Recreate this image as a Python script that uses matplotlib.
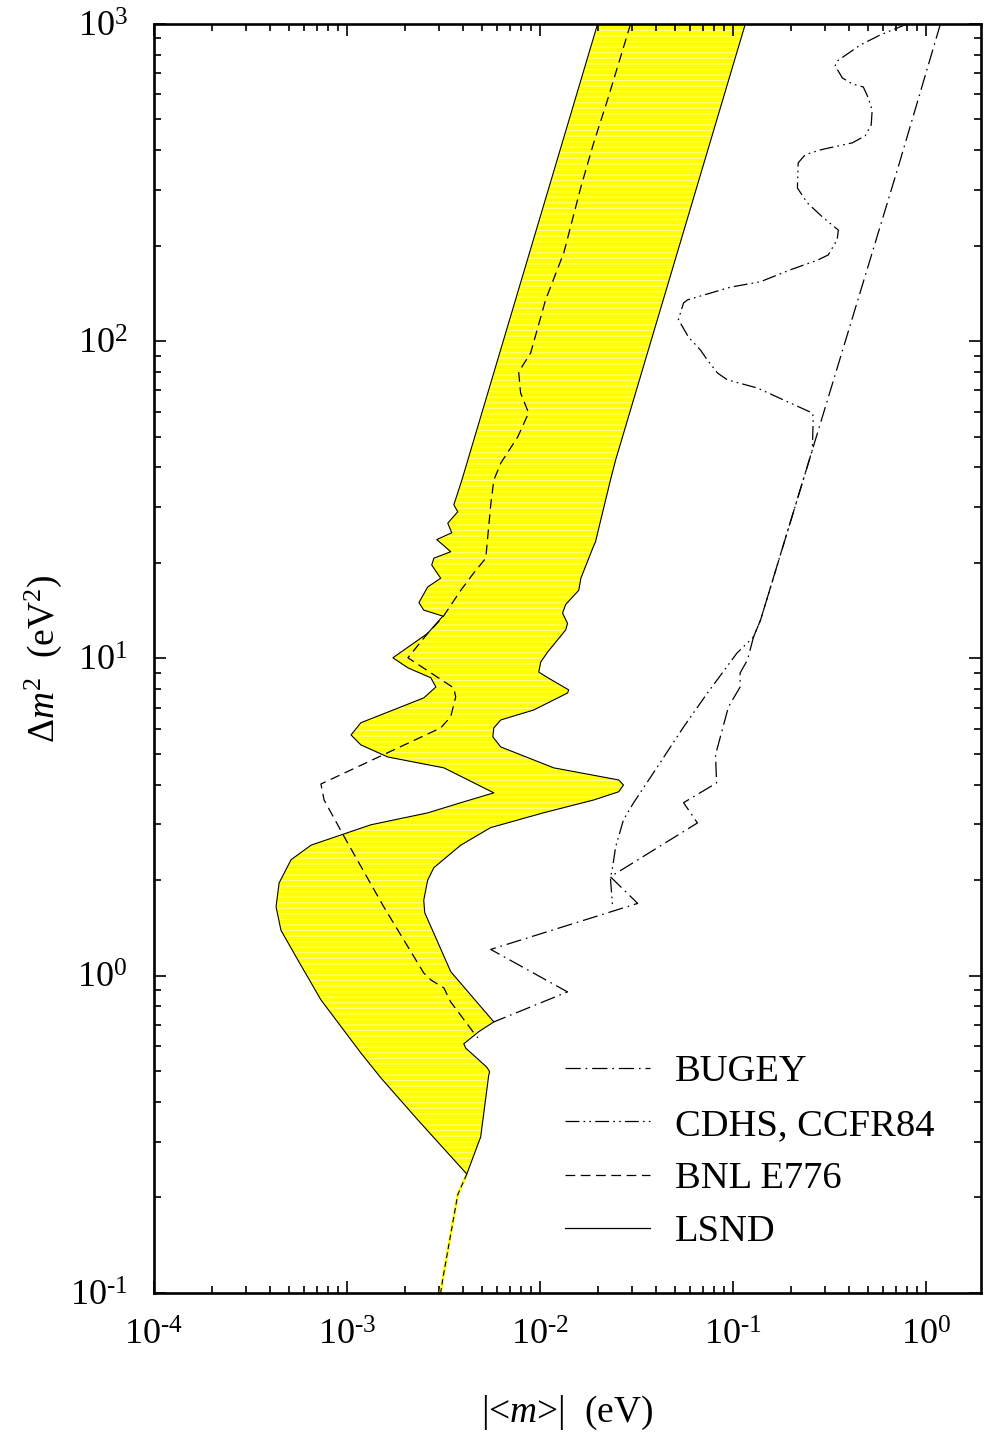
import matplotlib
matplotlib.use('Agg')
import matplotlib.pyplot as plt
from matplotlib.lines import Line2D
from matplotlib.ticker import LogLocator, NullFormatter, FuncFormatter
import math

# LSND allowed region: left edge from the top down to the lower tip, then the right edge back up
lsnd_m = [1.99e-2, 3.94e-3, 3.58e-3, 3.75e-3, 3.33e-3, 3.49e-3, 2.92e-3, 3.45e-3, 2.82e-3, 2.75e-3,
          3.06e-3, 2.62e-3, 2.36e-3, 2.50e-3, 3.14e-3, 2.62e-3, 1.73e-3, 2.07e-3, 2.72e-3, 2.89e-3,
          2.50e-3, 1.18e-3, 1.05e-3, 1.18e-3, 1.63e-3, 3.18e-3, 5.77e-3, 3.89e-3, 2.62e-3, 1.33e-3,
          6.52e-4, 5.13e-4, 4.45e-4, 4.29e-4, 4.55e-4, 5.57e-4, 7.33e-4, 1.18e-3, 1.50e-3, 2.33e-3,
          4.18e-3,
          4.76e-3, 4.93e-3, 5.43e-3, 5.49e-3, 5.30e-3, 4.13e-3, 4.03e-3, 4.28e-3, 4.82e-3, 5.77e-3,
          3.45e-3, 2.82e-3, 2.53e-3, 2.50e-3, 2.62e-3, 2.82e-3, 3.89e-3, 5.56e-3, 1.04e-2, 1.90e-2,
          2.56e-2, 2.71e-2, 2.56e-2, 1.18e-2, 6.27e-3, 5.70e-3, 5.77e-3, 6.27e-3, 9.29e-3, 1.39e-2,
          1.41e-2, 1.10e-2, 9.86e-3, 1.01e-2, 1.10e-2, 1.36e-2, 1.39e-2, 1.31e-2, 1.36e-2, 1.59e-2,
          1.63e-2, 1.88e-2, 1.94e-2, 2.32e-2, 2.47e-2, 0.116]
lsnd_dm2 = [1000, 36.5, 30.5, 29.0, 26.7, 24.9, 23.7, 21.7, 20.7, 19.7,
            17.9, 16.8, 15.0, 14.2, 13.6, 12.0, 10.05, 9.34, 8.69, 8.13,
            7.51, 6.27, 5.74, 5.34, 4.89, 4.52, 3.77, 3.51, 3.26, 2.99,
            2.58, 2.32, 1.96, 1.65, 1.39, 1.12, 0.839, 0.571, 0.476, 0.351,
            0.237,
            0.293, 0.310, 0.486, 0.498, 0.515, 0.591, 0.610, 0.628, 0.666, 0.715,
            1.03, 1.36, 1.58, 1.73, 2.00, 2.19, 2.58, 2.93, 3.26, 3.58,
            3.80, 3.99, 4.14, 4.52, 5.26, 5.66, 6.04, 6.40, 6.88, 7.78,
            7.96, 8.69, 9.06, 9.75, 10.5, 12.3, 12.9, 13.9, 14.8, 16.4,
            17.9, 22.3, 23.3, 36.5, 42.3, 1000]

# narrow LSND tail below the tip
tail_m = [4.18e-3, 3.75e-3, 3.14e-3, 3.02e-3]
tail_dm2 = [0.237, 0.204, 0.111, 0.095]

bnl_m = [2.95e-2, 2.24e-2, 1.90e-2, 1.63e-2, 1.33e-2, 1.07e-2, 8.95e-3, 7.76e-3, 7.94e-3, 8.74e-3,
         7.67e-3, 6.27e-3, 5.77e-3, 5.56e-3, 5.24e-3, 4.54e-3, 3.89e-3, 3.14e-3, 2.62e-3, 2.07e-3,
         3.58e-3, 3.66e-3, 3.45e-3, 3.06e-3, 7.33e-4, 7.61e-4, 9.88e-4, 1.55e-3, 2.50e-3, 2.72e-3,
         3.18e-3, 3.45e-3, 4.54e-3, 4.77e-3]
bnl_dm2 = [1000, 576, 422, 306, 190, 135, 91.8, 80.0, 68.7, 59.4,
           49.9, 41.3, 36.5, 30.5, 20.7, 18.6, 16.4, 13.5, 12.0, 10.05,
           8.07, 7.56, 6.55, 6.04, 4.02, 3.58, 2.68, 1.65, 1.02, 0.970,
           0.915, 0.826, 0.661, 0.637]

bugey_m = [1.19, 0.719, 0.258, 0.139, 0.128, 0.119, 0.109, 0.109, 0.0948, 0.0813,
           0.0823, 0.0555, 0.0655, 0.0232, 0.0321, 5.56e-3, 1.39e-2, 5.77e-3]
bugey_dm2 = [1000, 354, 45.4, 13.2, 11.7, 9.89, 9.00, 8.13, 7.03, 4.97,
             4.05, 3.51, 3.03, 2.05, 1.69, 1.21, 0.889, 0.715]

cdhs_m = [0.800, 0.579, 0.457, 0.347, 0.339, 0.369, 0.416, 0.474, 0.503, 0.527,
          0.521, 0.485, 0.416, 0.284, 0.237, 0.218, 0.216, 0.243, 0.294, 0.352,
          0.347, 0.312, 0.274, 0.199, 0.139, 0.0970, 0.0582, 0.0555, 0.0522, 0.0589,
          0.0680, 0.0738, 0.0832, 0.0938, 0.134, 0.199, 0.258, 0.261, 0.258, 0.139,
          0.128, 0.105, 0.0738, 0.0555, 0.0406, 0.0306, 0.0271, 0.0247, 0.0238, 0.0232,
          0.0238]
cdhs_dm2 = [1000, 923, 858, 764, 738, 676, 647, 633, 585, 535,
            481, 444, 422, 401, 387, 365, 304, 273, 245, 224,
            209, 187, 180, 168, 154, 148, 135, 132, 117, 103,
            93.7, 87.2, 79.4, 75.5, 71.2, 63.8, 59.4, 57.7, 45.4, 13.2,
            11.7, 10.4, 7.78, 6.08, 4.55, 3.51, 3.10, 2.55, 2.20, 2.03,
            1.65]

legend_labels = ['BUGEY', 'CDHS, CCFR84', 'BNL E776', 'LSND']

# стили линий (в пунктах, без масштабирования на толщину)
ls_bugey = (0, (11, 3.5, 1.2, 3.5))
ls_cdhs = (0, (10, 3, 1.2, 3, 1.2, 3))
ls_bnl = (0, (7, 4))
lw = 0.9


# подписи вида 10^-4 с коротким дефисом, как в оригинале
def power_label(v, pos):
    e = int(round(math.log10(v)))
    s = str(abs(e))
    if e < 0:
        s = '\u2010' + s
    return '$\\mathdefault{10^{' + s + '}}$'


plt.rcParams['font.family'] = ['Liberation Serif', 'DejaVu Serif']
plt.rcParams['mathtext.fontset'] = 'custom'
plt.rcParams['mathtext.rm'] = 'Liberation Serif'
plt.rcParams['mathtext.it'] = 'Liberation Serif:italic'
plt.rcParams['lines.scale_dashes'] = False
plt.rcParams['hatch.linewidth'] = 0.7

fig = plt.figure(figsize=(9.84, 14.35), dpi=100)
ax = fig.add_axes([0.1565, 0.0990, 0.8404, 0.8843])
ax.set_xscale('log')
ax.set_yscale('log')
ax.set_xlim(1e-4, 1.93)
ax.set_ylim(0.1, 1000)

# заливка области LSND (полосатая жёлтая) и её контур
ax.fill(lsnd_m, lsnd_dm2, facecolor='#ffff00', edgecolor='#ffffa0', hatch='---',
        linewidth=0, zorder=1)
ax.plot(lsnd_m, lsnd_dm2, color='black', lw=0.8, zorder=3)
ax.plot(tail_m, tail_dm2, color='#ffff00', lw=2.0, zorder=2)
ax.plot(tail_m, tail_dm2, color='black', lw=0.8, linestyle=(0, (4, 2.5)), zorder=3)

ax.plot(bnl_m, bnl_dm2, color='black', lw=lw, linestyle=ls_bnl, zorder=4)
ax.plot(bugey_m, bugey_dm2, color='black', lw=lw, linestyle=ls_bugey, zorder=4)
ax.plot(cdhs_m, cdhs_dm2, color='black', lw=lw, linestyle=ls_cdhs, zorder=4)

for axis in (ax.xaxis, ax.yaxis):
    axis.set_major_locator(LogLocator(base=10, numticks=20))
    axis.set_minor_locator(LogLocator(base=10, subs=range(2, 10), numticks=20))
    axis.set_major_formatter(FuncFormatter(power_label))
    axis.set_minor_formatter(NullFormatter())

ax.tick_params(which='both', direction='in', top=True, right=True, width=1.2, labelsize=26)
ax.tick_params(which='major', length=8.5, pad=19)
ax.tick_params(which='minor', length=5)
for sp in ax.spines.values():
    sp.set_linewidth(1.9)

ax.set_xlabel('|<$m$>|  (eV)', fontsize=27, labelpad=30)
ax.set_ylabel(r'$\Delta m^2$  (eV$^2$)', fontsize=27)
ax.yaxis.set_label_coords(-0.109, 0.5)

handles = [Line2D([], [], color='black', lw=lw, linestyle=ls_bugey),
           Line2D([], [], color='black', lw=lw, linestyle=ls_cdhs),
           Line2D([], [], color='black', lw=lw, linestyle=ls_bnl),
           Line2D([], [], color='black', lw=lw)]
ax.legend(handles, legend_labels, loc='upper left', bbox_to_anchor=(0.4974, 0.188),
          frameon=False, fontsize=27.7, handlelength=2.2, handletextpad=0.66,
          labelspacing=0.48, borderpad=0, borderaxespad=0)

fig.savefig('out.png', dpi=100)
